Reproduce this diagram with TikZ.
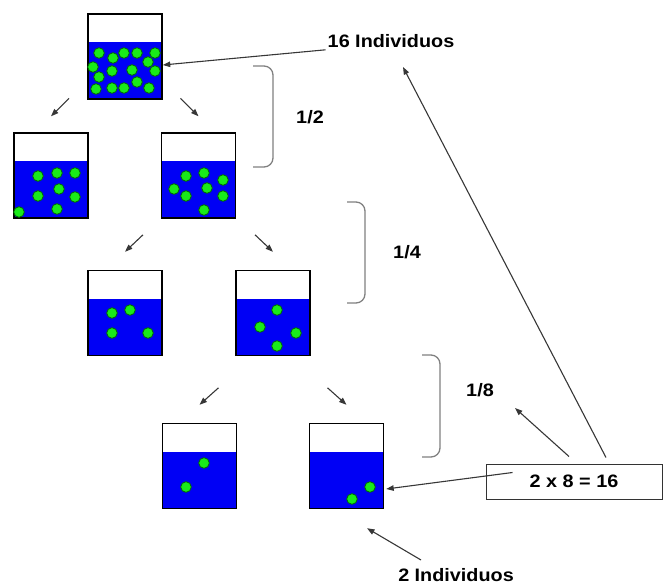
\documentclass[tikz,border=0pt]{standalone}
\usepackage{fontspec}
\setmainfont{Liberation Sans}
\newfontfamily\labelfont[FakeStretch=1.1]{Liberation Sans}
\usetikzlibrary{arrows.meta}
\tikzset{>={Stealth[inset=0pt,angle=40:8pt]}}
\definecolor{water}{RGB}{0,0,245}
\definecolor{algae}{RGB}{25,235,25}
\definecolor{algaeedge}{RGB}{0,105,0}
\definecolor{linegray}{RGB}{55,55,55}

\begin{document}
\begin{tikzpicture}[x=1pt,y=-1pt,
    beaker/.style={draw=black,line width=1.4pt,minimum width=74pt,minimum height=85pt,inner sep=0pt,
      path picture={\fill[water] (path picture bounding box.south west) rectangle ([yshift=57pt]path picture bounding box.south east);}},
    cell/.style={fill=algae,draw=algaeedge,line width=0.8pt},
    split/.style={->,draw=linegray,line width=1.1pt},
    brace/.style={draw=gray,line width=1.3pt,rounded corners=9pt},
    lbl/.style={font=\labelfont\bfseries\fontsize{18}{20}\selectfont,inner sep=2pt}]
    \useasboundingbox (0,0) rectangle (663,588);
    % beakers, one row per halving
    \node[beaker] (b1) at (125,56.5) {};
    \node[beaker] (b2) at (51,175.5) {};
    \node[beaker] (b3) at (198.5,175.5) {};
    \node[beaker] (b4) at (125,313) {};
    \node[beaker] (b5) at (273,313) {};
    \node[beaker] (b6) at (199.5,466) {};
    \node[beaker] (b7) at (346.5,466) {};
    % individuals
    \foreach \x/\y in {99/53,113/58,124/53,137/53,155/53,148/62,93/67,112/71,
        132/70,155/71,99/77,137/82,96/89,112/88,124/88,149/88}
    {\draw[cell] (\x,\y) circle (5.3);}
    \foreach \x/\y in {38/176,57/173,75/173,59/189,38/196,75/197,19/212,57/209,
        186/176,204/173,223/180,174/189,186/196,207/188,223/196,204/210}
    {\draw[cell] (\x,\y) circle (5.3);}
    \foreach \x/\y in {112/313,130/310,112/333,148/333,277/310,260/327,296/333,277/346}
    {\draw[cell] (\x,\y) circle (5.3);}
    \foreach \x/\y in {204/463,186/487,370/487,352/499}
    {\draw[cell] (\x,\y) circle (5.3);}
    % splitting arrows
    \draw[split] ([xshift=18pt,yshift=34pt]b2.north) -- ([yshift=16pt]b2.north);
    \draw[split] ([xshift=-18pt,yshift=34pt]b3.north) -- ([yshift=16pt]b3.north);
    \draw[split] ([xshift=18pt,yshift=35pt]b4.north) -- ([yshift=18pt]b4.north);
    \draw[split] ([xshift=-18pt,yshift=35pt]b5.north) -- ([yshift=18pt]b5.north);
    \draw[split] ([xshift=19pt,yshift=35pt]b6.north) -- ([yshift=18pt]b6.north);
    \draw[split] ([xshift=-19pt,yshift=35pt]b7.north) -- ([yshift=18pt]b7.north);
    % fractions
    \draw[brace] (253,66) -- (273,66) -- (273,167) -- (253,167);
    \draw[brace] (347,202) -- (365,202) -- (365,303) -- (347,303);
    \draw[brace] (422,355) -- (440,355) -- (440,457) -- (422,457);
    \node[lbl] (half) at (310,117) {1/2};
    \node[lbl] (quarter) at (407,252) {1/4};
    \node[lbl] (eighth) at (480,390) {1/8};
    % labels
    \node[lbl] (n16) at (391,41) {16 Individuos};
    \node[lbl] (n2) at (456,575) {2 Individuos};
    \node[lbl,draw=black!80,line width=1pt,minimum width=176pt,minimum height=35pt] (prod) at (574,481.5) {2 x 8 = 16};
    \draw[split] (n16.south west) -- ([yshift=-8.5pt]b1.east);
    \draw[split] ([xshift=-35pt,yshift=15pt]n2.center) -- ([xshift=20.5pt,yshift=-19pt]b7.south);
    \draw[split] ([xshift=27pt,yshift=-9pt]prod.north west) -- ([xshift=2pt,yshift=-23pt]b7.east);
    \draw[split] ([xshift=-5pt,yshift=7pt]prod.north) -- ([xshift=35pt,yshift=-18pt]eighth.center);
    \draw[split] ([xshift=32pt,yshift=6pt]prod.north) -- ([xshift=12pt,yshift=-26pt]n16.center);
\end{tikzpicture}
\end{document}
